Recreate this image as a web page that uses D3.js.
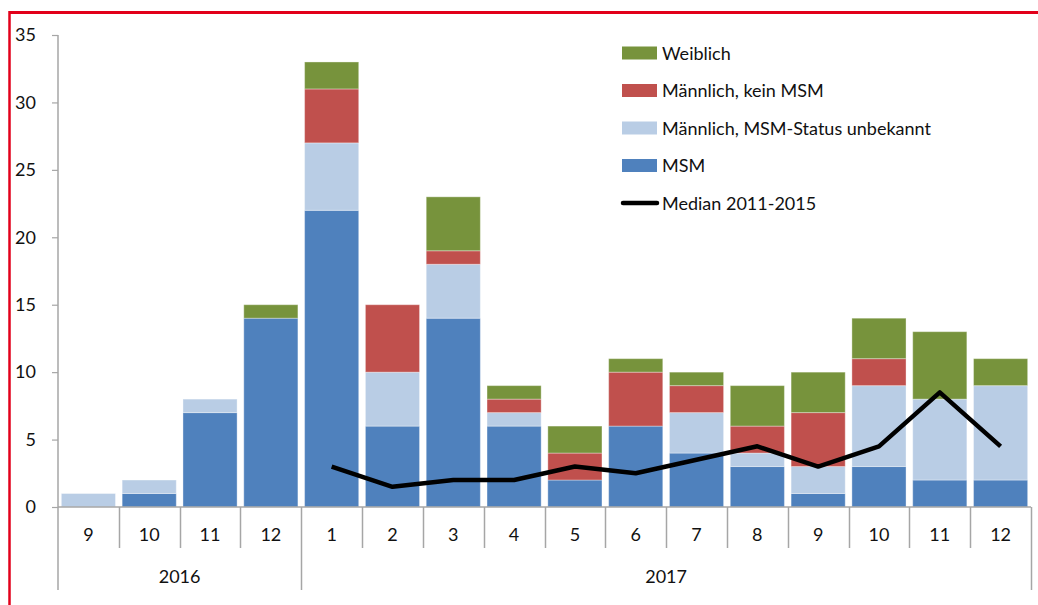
<!DOCTYPE html>
<html>
<head>
<meta charset="utf-8">
<script src="https://cdn.jsdelivr.net/npm/d3@7"></script>
<style>
  body { margin: 0; background: #fff; }
  text { font-family: Lato, "Open Sans", sans-serif; fill: #111; }
</style>
</head>
<body>
<script>
// data
var months = ["9", "10", "11", "12", "1", "2", "3", "4", "5", "6", "7", "8", "9", "10", "11", "12"];
var years = [{ label: "2016", from: 0, to: 4 }, { label: "2017", from: 4, to: 16 }];
var msm       = [0, 1, 7, 14, 22, 6, 14, 6, 2, 6, 4, 3, 1, 3, 2, 2];
var unbekannt = [1, 1, 1, 0, 5, 4, 4, 1, 0, 0, 3, 1, 2, 6, 6, 7];
var keinMsm   = [0, 0, 0, 0, 4, 5, 1, 1, 2, 4, 2, 2, 4, 2, 0, 0];
var weiblich  = [0, 0, 0, 1, 2, 0, 4, 1, 2, 1, 1, 3, 3, 3, 5, 2];
var median    = [null, null, null, null, 3, 1.5, 2, 2, 3, 2.5, 3.5, 4.5, 3, 4.5, 8.5, 4.5];
var yTicks = [0, 5, 10, 15, 20, 25, 30, 35];

(function() {
  var seriesKeys = ["msm", "unbekannt", "keinMsm", "weiblich"];
  var seriesNames = {
    weiblich: "Weiblich",
    keinMsm: "Männlich, kein MSM",
    unbekannt: "Männlich, MSM-Status unbekannt",
    msm: "MSM"
  };
  var colors = { msm: "#4F81BD", unbekannt: "#B9CDE5", keinMsm: "#C0504D", weiblich: "#77933C" };

  var width = 1038, height = 605;
  var left = 58, right = 1031, plotTop = 35, bottom = 507;
  var grey = "#A6A6A6";
  var fontSize = "18px";

  var svg = d3.select("body").append("svg")
    .attr("width", width)
    .attr("height", height);

  // red frame
  svg.append("line").attr("x1", 9).attr("x2", width).attr("y1", 12.5).attr("y2", 12.5)
    .attr("stroke", "#E2001A").attr("stroke-width", 3);
  svg.append("line").attr("x1", 9.5).attr("x2", 9.5).attr("y1", 11).attr("y2", height)
    .attr("stroke", "#E2001A").attr("stroke-width", 2.5);

  var table = months.map(function(m, i) {
    return { i: i, msm: msm[i], unbekannt: unbekannt[i], keinMsm: keinMsm[i], weiblich: weiblich[i] };
  });

  var x = d3.scaleBand().domain(d3.range(months.length)).range([left, right]).paddingInner(0.11).paddingOuter(0.055);
  var y = d3.scaleLinear().domain([0, 35]).range([bottom, plotTop]);
  var step = x.step();

  var stacked = d3.stack().keys(seriesKeys)(table);

  svg.append("g").selectAll("g")
    .data(stacked)
    .enter().append("g")
    .attr("fill", function(d) { return colors[d.key]; })
    .selectAll("rect")
    .data(function(d) { return d.filter(function(s) { return s[1] > s[0]; }); })
    .enter().append("rect")
    .attr("x", function(d) { return x(d.data.i); })
    .attr("width", x.bandwidth())
    .attr("y", function(d) { return y(d[1]); })
    .attr("height", function(d) { return y(d[0]) - y(d[1]); })
    .attr("stroke", "rgba(255,255,255,0.35)")
    .attr("stroke-width", 1);

  // median line
  var line = d3.line()
    .defined(function(d) { return d != null; })
    .x(function(d, i) { return x(i) + x.bandwidth() / 2; })
    .y(function(d) { return y(d); });

  svg.append("path")
    .datum(median)
    .attr("d", line)
    .attr("fill", "none")
    .attr("stroke", "#000")
    .attr("stroke-width", 4.5)
    .attr("stroke-linejoin", "round");

  // y axis
  var yAxis = svg.append("g")
    .attr("transform", "translate(" + left + ",0)")
    .call(d3.axisLeft(y).tickValues(yTicks).tickSize(6).tickPadding(16));
  yAxis.select(".domain").remove();
  yAxis.selectAll("line").attr("stroke", grey).attr("stroke-width", 1.2);
  yAxis.selectAll("text").style("font-size", fontSize).attr("fill", "#111");

  svg.append("line").attr("x1", left).attr("x2", left).attr("y1", plotTop).attr("y2", 590)
    .attr("stroke", grey).attr("stroke-width", 1.5);
  svg.append("line").attr("x1", left).attr("x2", right).attr("y1", bottom).attr("y2", bottom)
    .attr("stroke", grey).attr("stroke-width", 1.5);

  // month boundaries, longer at the year breaks
  svg.append("g").selectAll("line")
    .data(d3.range(1, months.length + 1))
    .enter().append("line")
    .attr("x1", function(i) { return Math.round(left + i * step) + 0.5; })
    .attr("x2", function(i) { return Math.round(left + i * step) + 0.5; })
    .attr("y1", bottom)
    .attr("y2", function(i) { return (i === 4 || i === 16) ? 590 : 548; })
    .attr("stroke", grey).attr("stroke-width", 1.5);

  svg.append("g").selectAll("text")
    .data(months)
    .enter().append("text")
    .attr("x", function(d, i) { return x(i) + x.bandwidth() / 2; })
    .attr("y", 541)
    .attr("text-anchor", "middle")
    .style("font-size", fontSize)
    .text(function(d) { return d; });

  svg.append("g").selectAll("text")
    .data(years)
    .enter().append("text")
    .attr("x", function(d) { return left + (d.from + d.to) / 2 * step; })
    .attr("y", 583)
    .attr("text-anchor", "middle")
    .style("font-size", fontSize)
    .text(function(d) { return d.label; });

  // legend
  var legendKeys = ["weiblich", "keinMsm", "unbekannt", "msm"];
  var legend = svg.append("g").attr("transform", "translate(622,53)");
  legendKeys.forEach(function(k, i) {
    var g = legend.append("g").attr("transform", "translate(0," + (i * 37.5) + ")");
    g.append("rect").attr("x", 0).attr("y", -6.5).attr("width", 35).attr("height", 13).attr("fill", colors[k]);
    g.append("text").attr("x", 40).attr("y", 6.5).style("font-size", fontSize).text(seriesNames[k]);
  });
  var lg = legend.append("g").attr("transform", "translate(0," + (4 * 37.5) + ")");
  lg.append("line").attr("x1", 1).attr("x2", 35).attr("y1", 0).attr("y2", 0)
    .attr("stroke", "#000").attr("stroke-width", 4.5).attr("stroke-linecap", "round");
  lg.append("text").attr("x", 40).attr("y", 6.5).style("font-size", fontSize).text("Median 2011-2015");
})();
</script>
</body>
</html>
